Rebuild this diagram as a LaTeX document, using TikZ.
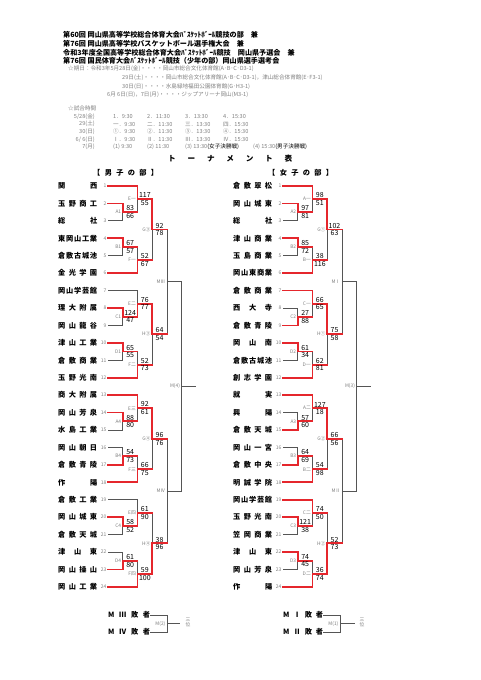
\documentclass[tikz,border=0pt]{standalone}
\usepackage{fontspec}
\setmainfont{Noto Sans CJK JP}
\usetikzlibrary{calc}

\definecolor{winred}{HTML}{E5262C}
\definecolor{linegray}{HTML}{555555}
\definecolor{notegray}{HTML}{808080}

% Zeichen gleichmaessig auf eine Breite verteilen
\def\spreadloop#1#2{#1\ifx#2\relax\else\hfill\expandafter\spreadloop\fi#2}
\newcommand\spread[2]{\makebox[#1]{\expandafter\spreadloop#2\relax}}

\tikzset{%
  header line/.style={anchor=west, inner sep=0pt, font=\fontsize{7.1}{8}\selectfont\bfseries},
  note line/.style={anchor=west, inner sep=0pt, text=notegray, font=\fontsize{5.6}{6}\selectfont},
  team name/.style={anchor=west, inner sep=0pt, font=\fontsize{7.2}{8}\selectfont\bfseries},
  seed number/.style={anchor=east, inner sep=0pt, text=notegray, font=\fontsize{5}{6}\selectfont},
  match label/.style={anchor=east, inner sep=0pt, text=notegray, font=\fontsize{4.8}{5}\selectfont},
  score/.style={inner sep=1pt, font=\fontsize{7}{8}\selectfont},
  bracket line/.style={draw=linegray, line width=0.8pt},
  winner line/.style={draw=winred, line width=1.7pt, line cap=rect},
}

\begin{document}
\begin{tikzpicture}[x=1pt, y=-1pt]
\useasboundingbox [fill=white] (0,0) rectangle (481,680);


% Kopfzeilen
\foreach \t [count=\i] in {{第60回 岡山県高等学校総合体育大会ﾊﾞｽｹｯﾄﾎﾞｰﾙ競技の部　兼},
    {第76回 岡山県高等学校バスケットボール選手権大会　兼},
    {令和3年度全国高等学校総合体育大会ﾊﾞｽｹｯﾄﾎﾞｰﾙ競技　岡山県予選会　兼},
    {第76回 国民体育大会ﾊﾞｽｹｯﾄﾎﾞｰﾙ競技（少年の部）岡山県選手選考会}}
  \node [header line] (head-\i) at (63,{26.3+\i*8.7}) {\t};

\node [note line] (date-1) at (68,69) {☆期日：令和3年5月28日(金)・・・・岡山市総合文化体育館(A･B･C･D3-1)};
\node [note line] (date-2) at (122,78) {29日(土)・・・・岡山市総合文化体育館(A･B･C･D3-1)，津山総合体育館(E･F3-1)};
\node [note line] (date-3) at (122,87) {30日(日)・・・・水島緑地福田公園体育館(G･H3-1)};
\node [note line] (date-4) at (107,95) {6月 6日(日)，7日(月)・・・・ジップアリーナ岡山(M3-1)};


% Spielzeiten
\node [note line] (time-head) at (68,108) {☆試合時間};
\foreach \d/\sa/\sb/\sc/\sd/\xd [count=\i] in {
    {5/28(金)}/{1．9:30}/{2．11:30}/{3．13:30}/{4．15:30}/223,
    {29(土)}/{一．9:30}/{二．11:30}/{三．13:30}/{四．15:30}/223,
    {30(日)}/{①．9:30}/{②．11:30}/{③．13:30}/{④．15:30}/223,
    {6/ 6(日)}/{Ⅰ．9:30}/{Ⅱ．11:30}/{Ⅲ．13:30}/{Ⅳ．15:30}/223,
    {7(月)}/{(1) 9:30}/{(2) 11:30}/{(3) 13:30\textcolor{black}{(女子決勝戦)}}/{(4) 15:30\textcolor{black}{(男子決勝戦)}}/253}
{
  \node [note line, anchor=east] (day-\i) at (95,{109+\i*7.6}) {\d};
  \node [note line] (slot-\i-1) at (113,{109+\i*7.6}) {\sa};
  \node [note line] (slot-\i-2) at (147,{109+\i*7.6}) {\sb};
  \node [note line] (slot-\i-3) at (185,{109+\i*7.6}) {\sc};
  \node [note line] (slot-\i-4) at (\xd,{109+\i*7.6}) {\sd};
}


% Titel
\node [anchor=west, inner sep=0pt, font=\fontsize{7.6}{8}\selectfont\bfseries] (title) at (168,159) {\spread{124pt}{トーナメント表}};
\node [team name] (boys-head) at (93,173) {\spread{65pt}{【男子の部】}};
\node [team name] (girls-head) at (268,173) {\spread{65pt}{【女子の部】}};


% Mannschaften
\foreach \n [count=\i] in {関西,玉野商工,総社,東岡山工業,倉敷古城池,金光学園,
    岡山学芸館,理大附属,岡山龍谷,津山工業,倉敷商業,玉野光南,
    商大附属,岡山芳泉,水島工業,岡山朝日,倉敷青陵,作陽,
    倉敷工業,岡山城東,倉敷天城,津山東,岡山操山,岡山工業}
{
  \node [team name] (boys-name-\i) at (58,{186+(\i-1)*17.43}) {\spread{39pt}{\n}};
  \node [seed number] (boys-seed-\i) at (106.5,{186+(\i-1)*17.43}) {\i};
  \coordinate (boys-\i) at (108,{186+(\i-1)*17.43});
}

\foreach \n [count=\i] in {倉敷翠松,岡山城東,総社,津山商業,玉島商業,岡山東商業,
    倉敷商業,西大寺,倉敷青陵,岡山南,倉敷古城池,創志学園,
    就実,興陽,倉敷天城,岡山一宮,倉敷中央,明誠学院,
    岡山学芸館,玉野光南,笠岡商業,津山東,岡山芳泉,作陽}
{
  \node [team name] (girls-name-\i) at (233,{186+(\i-1)*17.43}) {\spread{39pt}{\n}};
  \node [seed number] (girls-seed-\i) at (281.5,{186+(\i-1)*17.43}) {\i};
  \coordinate (girls-\i) at (283,{186+(\i-1)*17.43});
}


% Spielpunkte
\foreach \side/\dx in {boys/0, girls/175}{
  \foreach \k in {1,...,4}{
    \pgfmathsetmacro\r{186+6*(\k-1)*17.43}
    \coordinate (\side-p\k) at ({122.8+\dx},{\r+1.5*17.43});
    \coordinate (\side-q\k) at ({122.8+\dx},{\r+3.5*17.43});
    \coordinate (\side-e\k) at ({137.5+\dx},{\r+0.75*17.43});
    \coordinate (\side-f\k) at ({137.5+\dx},{\r+4.25*17.43});
    \coordinate (\side-g\k) at ({152.2+\dx},{\r+2.5*17.43});
  }
  \coordinate (\side-s1) at ({166.9+\dx},{186+5.5*17.43});
  \coordinate (\side-s2) at ({166.9+\dx},{186+17.5*17.43});
  \coordinate (\side-fin) at ({181.6+\dx},{186+11.5*17.43});
  \coordinate (\side-end) at ({195.5+\dx},{186+11.5*17.43});
}


% Linien
\foreach \side in {boys,girls}{
  \foreach \k in {1,...,4}{
    \pgfmathtruncatemacro\nA{6*\k-5}
    \pgfmathtruncatemacro\nB{6*\k-4}
    \pgfmathtruncatemacro\nC{6*\k-3}
    \pgfmathtruncatemacro\nD{6*\k-2}
    \pgfmathtruncatemacro\nE{6*\k-1}
    \pgfmathtruncatemacro\nF{6*\k}
    \draw [bracket line] (\side-\nB) -| (\side-p\k) (\side-\nC) -| (\side-p\k)
      (\side-\nD) -| (\side-q\k) (\side-\nE) -| (\side-q\k)
      (\side-\nA) -| (\side-e\k) (\side-p\k) -| (\side-e\k)
      (\side-q\k) -| (\side-f\k) (\side-\nF) -| (\side-f\k)
      (\side-e\k) -| (\side-g\k) (\side-f\k) -| (\side-g\k);
  }
  \draw [bracket line] (\side-g1) -| (\side-s1) (\side-g2) -| (\side-s1)
    (\side-g3) -| (\side-s2) (\side-g4) -| (\side-s2)
    (\side-s1) -| (\side-fin) (\side-s2) -| (\side-fin) -- (\side-end);
}

\foreach \side/\k/\wp/\wq/\we/\wf/\wg in {
    boys/1/2/4/1/6/e1, boys/2/8/10/p2/12/e2,
    boys/3/14/17/13/18/e3, boys/4/20/23/p4/24/f4,
    girls/1/2/4/1/6/e1, girls/2/9/10/7/12/e2,
    girls/3/15/17/13/18/e3, girls/4/20/22/19/24/f4}
{
  \draw [winner line] (\side-\wp) -| (\side-p\k) -- (\side-p\k -| \side-e\k);
  \draw [winner line] (\side-\wq) -| (\side-q\k) -- (\side-q\k -| \side-f\k);
  \draw [winner line] (\side-\we) -| (\side-e\k) -- (\side-e\k -| \side-g\k);
  \draw [winner line] (\side-\wf) -| (\side-f\k) -- (\side-f\k -| \side-g\k);
  \draw [winner line] (\side-\wg) -| (\side-g\k) -- (\side-g\k -| \side-s1);
}


% Ergebnisse und Spielnummern
\foreach \side/\j/\nx/\hi/\lo/\lab in {
    boys/p1/e1/83/66/A1, boys/q1/f1/67/57/B1, boys/e1/g1/117/55/E一, boys/f1/g1/52/67/F一, boys/g1/s1/92/78/G③,
    boys/p2/e2/124/47/C1, boys/q2/f2/65/55/D1, boys/e2/g2/76/77/E二, boys/f2/g2/52/73/F二, boys/g2/s1/64/54/H③,
    boys/p3/e3/88/80/A4, boys/q3/f3/54/73/B4, boys/e3/g3/92/61/E三, boys/f3/g3/66/75/F三, boys/g3/s1/96/76/G④,
    boys/p4/e4/58/52/C4, boys/q4/f4/61/80/D4, boys/e4/g4/61/90/E四, boys/f4/g4/59/100/F四, boys/g4/s1/38/96/H④,
    girls/p1/e1/97/81/A2, girls/q1/f1/85/72/B2, girls/e1/g1/98/51/A一, girls/f1/g1/38/116/B一, girls/g1/s1/102/63/G①,
    girls/p2/e2/27/88/C2, girls/q2/f2/61/34/D2, girls/e2/g2/66/65/C一, girls/f2/g2/62/81/D一, girls/g2/s1/75/58/H①,
    girls/p3/e3/57/60/A3, girls/q3/f3/64/69/B3, girls/e3/g3/127/18/A二, girls/f3/g3/54/98/B二, girls/g3/s1/66/56/G②,
    girls/p4/e4/121/38/C3, girls/q4/f4/74/45/D3, girls/e4/g4/74/50/C二, girls/f4/g4/36/74/D二, girls/g4/s1/52/73/H②}
{
  \node [score, anchor=south] (\side-\j-top) at ($(\side-\j)!.5!(\side-\j -| \side-\nx)$) {\hi};
  \node [score, anchor=north] (\side-\j-bottom) at ($(\side-\j)!.5!(\side-\j -| \side-\nx)$) {\lo};
  \node [match label] (\side-\j-label) at ([xshift=-1.5pt]\side-\j) {\lab};
}

\foreach \side/\j/\lab in {boys/s1/MⅢ, boys/s2/MⅣ, boys/fin/M(4), girls/s1/MⅠ, girls/s2/MⅡ, girls/fin/M(3)}
  \node [match label] (\side-\j-label) at ([xshift=-1.5pt]\side-\j) {\lab};


% Dritter Platz
\node [team name] (boys-third-1) at (108,615) {\spread{42pt}{MⅢ敗者}};
\node [team name] (boys-third-2) at (108,632) {\spread{42pt}{MⅣ敗者}};
\coordinate (boys-third) at (167,623.5);
\coordinate (boys-third-end) at (180,623.5);
\draw [bracket line] (boys-third-1) -| (boys-third) (boys-third-2) -| (boys-third) -- (boys-third-end);
\node [match label] (boys-third-label) at ([xshift=-1.5pt]boys-third) {M(2)};
\node [match label, anchor=center, align=center, font=\fontsize{4.8}{5.2}\selectfont] (boys-third-place) at (188,622.5) {三\\位};

\node [team name] (girls-third-1) at (283,615) {\spread{40pt}{MⅠ敗者}};
\node [team name] (girls-third-2) at (283,632) {\spread{40pt}{MⅡ敗者}};
\coordinate (girls-third) at (340,623.5);
\coordinate (girls-third-end) at (355,623.5);
\draw [bracket line] (girls-third-1) -| (girls-third) (girls-third-2) -| (girls-third) -- (girls-third-end);
\node [match label] (girls-third-label) at ([xshift=-1.5pt]girls-third) {M(1)};
\node [match label, anchor=center, align=center, font=\fontsize{4.8}{5.2}\selectfont] (girls-third-place) at (362,622.5) {三\\位};

\end{tikzpicture}
\end{document}
